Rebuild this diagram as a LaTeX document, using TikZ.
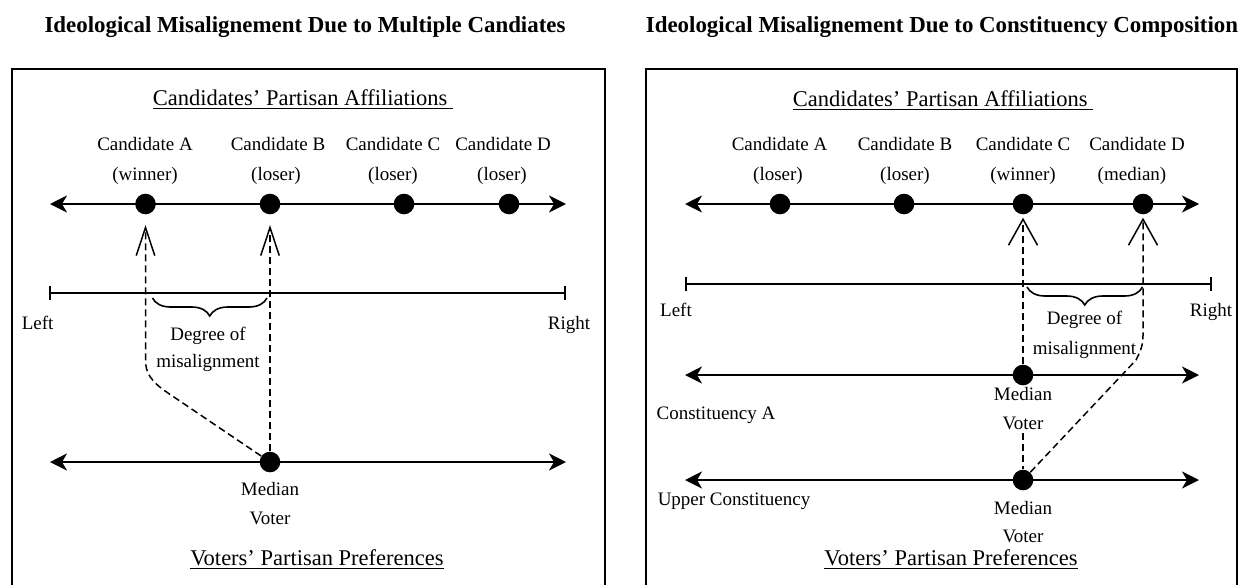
\documentclass[tikz,border=0pt]{standalone}
\usepackage{fontspec}
\setmainfont{Liberation Serif}
\usetikzlibrary{arrows.meta,decorations.pathreplacing}
\begin{document}
\begin{tikzpicture}[x=0.5pt,y=-0.5pt,
  txt/.style={inner sep=0pt, text height=0.7em, text depth=0pt, font=\fontsize{9.5pt}{11pt}\selectfont},
  head/.style={inner sep=0pt, text height=0.7em, text depth=0pt, font=\fontsize{11.25pt}{13pt}\selectfont},
  ttl/.style={inner sep=0pt, text height=0.7em, text depth=0pt, font=\fontsize{11.45pt}{13pt}\selectfont\bfseries},
  dot/.style={circle, fill=black, inner sep=0pt, minimum size=10.3pt},
  axis/.style={line width=1pt, {Stealth[length=8.5pt,width=8.5pt,inset=2.5pt]}-{Stealth[length=8.5pt,width=8.5pt,inset=2.5pt]}},
  ruler/.style={line width=1pt, {Bar[width=7pt]}-{Bar[width=7pt]}},
  frame/.style={line width=1pt},
  dsh/.style={line width=0.75pt, dash pattern=on 3.5pt off 2pt},
  vnarrow/.style={-{Straight Barb[length=14pt,width=9.3pt,line width=0.75pt]}},
  vwide/.style={-{Straight Barb[length=13pt,width=14.5pt,line width=0.75pt]}},
  brc/.style={line width=0.8pt, decorate, decoration={brace, amplitude=9pt, mirror}}
]
\useasboundingbox (0,0) rectangle (1240,584);

% ================= LEFT PANEL =================
\node[ttl] (ttlL) at (305,25) {Ideological Misalignement Due to Multiple Candiates};
\coordinate (fL1) at (12,600);
\coordinate (fL2) at (12,69);
\coordinate (fL3) at (605,69);
\coordinate (fL4) at (605,600);
\draw[frame] (fL1) -- (fL2) -- (fL3) -- (fL4);

\node[head] (headL) at (303,98) {\underline{Candidates' Partisan Affiliations\hspace{0.25em}}};

\node[txt] (lA1) at (145,143) {Candidate A};
\node[txt] (lA2) at (145,173) {(winner)};
\node[txt] (lB1) at (278,143) {Candidate B};
\node[txt] (lB2) at (276,173) {(loser)};
\node[txt] (lC1) at (393,143) {Candidate C};
\node[txt] (lC2) at (393,173) {(loser)};
\node[txt] (lD1) at (503,143) {Candidate D};
\node[txt] (lD2) at (502,173) {(loser)};

\coordinate (axL1a) at (50,204);
\coordinate (axL1b) at (566,204);
\draw[axis] (axL1a) -- (axL1b);
\node[dot] (dA) at (145.5,204) {};
\node[dot] (dB) at (270,204) {};
\node[dot] (dC) at (404,204) {};
\node[dot] (dD) at (509,204) {};

\coordinate (rL1) at (48.7,293);
\coordinate (rL2) at (566,293);
\draw[ruler] (rL1) -- (rL2);
\node[txt] (leftL) at (37.6,322) {Left};
\node[txt] (rightL) at (569,322) {Right};

\coordinate (bL1) at (152.5,298);
\coordinate (bL2) at (267,298);
\draw[brc] (bL1) -- (bL2);
\node[txt] (degL) at (208,333) {Degree of};
\node[txt] (misL) at (208,360) {misalignment};

\coordinate (axL2a) at (50,462);
\coordinate (axL2b) at (566,462);
\draw[axis] (axL2a) -- (axL2b);
\node[dot] (mv) at (270,462) {};
\node[txt] (medL) at (270,488) {Median};
\node[txt] (votL) at (270,517) {Voter};
\node[head] (footL) at (317,558) {\underline{Voters' Partisan Preferences}};

\draw[dsh, vnarrow, shorten >=5.25pt] (mv) -- (168,393) .. controls (150,381) and (145.5,372) .. (145.5,360) -- (dA.south);
\draw[dsh, vnarrow, shorten >=5.25pt] (mv) -- (dB);

% ================= RIGHT PANEL =================
\node[ttl] (ttlR) at (942,25) {Ideological Misalignement Due to Constituency Composition};
\coordinate (fR1) at (646,600);
\coordinate (fR2) at (646,69);
\coordinate (fR3) at (1237,69);
\coordinate (fR4) at (1237,600);
\draw[frame] (fR1) -- (fR2) -- (fR3) -- (fR4);

\node[head] (headR) at (943,99) {\underline{Candidates' Partisan Affiliations\hspace{0.25em}}};

\node[txt] (rA1) at (779.5,143) {Candidate A};
\node[txt] (rA2) at (778,173) {(loser)};
\node[txt] (rB1) at (905,143) {Candidate B};
\node[txt] (rB2) at (905,173) {(loser)};
\node[txt] (rC1) at (1023,143) {Candidate C};
\node[txt] (rC2) at (1023,173) {(winner)};
\node[txt] (rD1) at (1137,143) {Candidate D};
\node[txt] (rD2) at (1132,173) {(median)};

\coordinate (axR1a) at (685,204);
\coordinate (axR1b) at (1199,204);
\draw[axis] (axR1a) -- (axR1b);
\node[dot] (eA) at (780,204) {};
\node[dot] (eB) at (904,204) {};
\node[dot] (eC) at (1023,204) {};
\node[dot] (eD) at (1143,204) {};

\coordinate (rR1) at (685,284);
\coordinate (rR2) at (1212,284);
\draw[ruler] (rR1) -- (rR2);
\node[txt] (leftR) at (676,309) {Left};
\node[txt] (rightR) at (1211,309) {Right};

\coordinate (bR1) at (1027,287);
\coordinate (bR2) at (1142.5,287);
\draw[brc] (bR1) -- (bR2);
\node[txt] (degR) at (1084.5,317) {Degree of};
\node[txt] (misR) at (1084.5,347) {misalignment};

\coordinate (axR2a) at (685,375);
\coordinate (axR2b) at (1199,375);
\draw[axis] (axR2a) -- (axR2b);
\node[dot] (cm) at (1023,375) {};
\node[txt] (medR1) at (1023,393) {Median};
\node[txt] (votR1) at (1023,422) {Voter};
\node[txt] (consA) at (716,412) {Constituency A};

\coordinate (axR3a) at (685,480);
\coordinate (axR3b) at (1199,480);
\draw[axis] (axR3a) -- (axR3b);
\node[dot] (um) at (1023,480) {};
\node[txt] (upper) at (734,498) {Upper Constituency};
\node[txt] (medR2) at (1023,507) {Median};
\node[txt] (votR2) at (1023,535) {Voter};
\node[head] (footR) at (951,558) {\underline{Voters' Partisan Preferences}};

\draw[dsh, shorten <=2pt] (votR1.south) -- (um);
\draw[dsh, vwide, shorten >=1.5pt] (cm) -- (eC);
\draw[dsh, vwide, shorten >=1.5pt] (um) -- (1136,360) .. controls (1141,350) and (1143,345) .. (1143,335) -- (eD.south);
\end{tikzpicture}
\end{document}
